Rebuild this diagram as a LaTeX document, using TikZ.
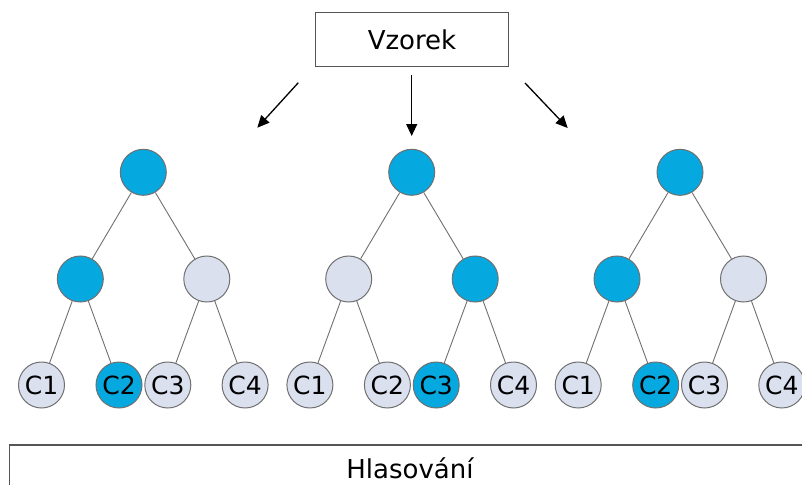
\documentclass[tikz,border=0pt]{standalone}
\usepackage{fontspec}
\setmainfont{DejaVu Sans}
\usetikzlibrary{arrows.meta}
\definecolor{hit}{HTML}{05A8DF}
\definecolor{miss}{HTML}{DAE0EE}
\definecolor{rim}{HTML}{707070}
\definecolor{frame}{HTML}{555555}

\begin{document}
\begin{tikzpicture}[x=1pt,y=-1pt,
  vert/.style={circle,draw=rim,line width=1pt,minimum size=46pt,inner sep=0pt,
    font=\fontsize{25}{25}\selectfont},
  on/.style={vert,fill=hit},
  off/.style={vert,fill=miss},
  branch/.style={draw=rim,line width=0.9pt},
  pick/.style={-{Triangle[length=12pt,width=11pt]},line width=1.3pt,black},
  big/.style={font=\fontsize{26}{26}\selectfont}]
\useasboundingbox (0,0) rectangle (802,484);

% sampled data source
\node[draw=frame,line width=1.3pt,minimum width=192.6pt,minimum height=54.4pt,
  inner sep=0pt,big] (sample) at (412,39.5) {Vzorek};

% bootstrap arrows
\coordinate (pA0) at (298.3,82.7);
\coordinate (pA1) at (257.3,127.7);
\coordinate (pB0) at (411.7,75);
\coordinate (pB1) at (411.7,136);
\coordinate (pC0) at (525,83);
\coordinate (pC1) at (567.7,128);
\draw[pick] (pA0) -- (pA1);
\draw[pick] (pB0) -- (pB1);
\draw[pick] (pC0) -- (pC1);

% three decision trees
\foreach \t/\cx/\a/\b/\k in {A/143.3/on/off/2, B/411.7/off/on/3, C/680/on/off/2}{
  \node[on] (\t-root) at (\cx,172.3) {};
  \node[\a] (\t-l) at (\cx-63,279) {};
  \node[\b] (\t-r) at (\cx+63.5,279) {};
  \draw[branch] (\t-root) -- (\t-l);
  \draw[branch] (\t-root) -- (\t-r);
  \foreach \i/\dx in {1/-101.8,2/-24.3,3/24.5,4/101.8}{
    \def\st{off}
    \ifnum\i=\k\relax\def\st{on}\fi
    \node[\st] (\t-c\i) at (\cx+\dx,385) {C\i};
  }
  \draw[branch] (\t-l) -- (\t-c1);
  \draw[branch] (\t-l) -- (\t-c2);
  \draw[branch] (\t-r) -- (\t-c3);
  \draw[branch] (\t-r) -- (\t-c4);
}

% voting stage
\draw[draw=frame,line width=1.4pt] (9.5,445) rectangle (840,540);
\node[big,inner sep=0pt] (vote) at (410,468) {Hlasování};
\end{tikzpicture}
\end{document}
